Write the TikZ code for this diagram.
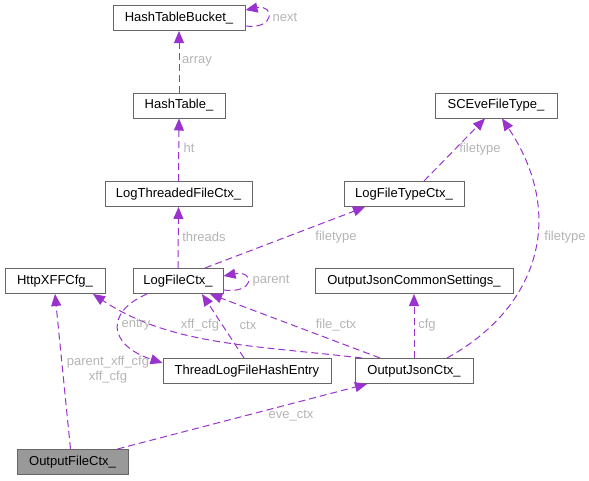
\documentclass[tikz,border=0pt]{standalone}
\usepackage{fontspec}
\setmainfont{Liberation Sans}
\usetikzlibrary{arrows.meta}
\definecolor{edgec}{HTML}{9A32CD}
\definecolor{labc}{HTML}{B4B4B4}
\definecolor{boxc}{HTML}{666666}
\definecolor{fillc}{HTML}{999999}
\begin{document}
\begin{tikzpicture}[x=1pt,y=-1pt,
  cls/.style={draw=boxc,line width=1pt,fill=white,minimum height=25pt,inner sep=0pt,font=\fontsize{13}{15}\selectfont,text=black},
  cur/.style={cls,fill=fillc},
  lab/.style={text=labc,font=\fontsize{13}{15}\selectfont,inner sep=0pt,align=center},
  use/.style={draw=edgec,line width=1pt,dash pattern=on 7pt off 4pt,-{Triangle[length=12pt,width=10pt,fill=edgec]}}]
\useasboundingbox (0,0) rectangle (589,480);
% nodes
\node[cls,minimum width=132pt] (htb) at (179,18) {HashTableBucket\_};
\node[cls,minimum width=92pt] (ht) at (179,105.5) {HashTable\_};
\node[cls,minimum width=147pt] (ltf) at (178.5,194) {LogThreadedFileCtx\_};
\node[cls,minimum width=122pt] (sce) at (496,105.5) {SCEveFileType\_};
\node[cls,minimum width=120pt] (lft) at (404,194) {LogFileTypeCtx\_};
\node[cls,minimum width=100pt] (xff) at (55,281) {HttpXFFCfg\_};
\node[cls,minimum width=90pt] (lfc) at (178,281) {LogFileCtx\_};
\node[cls,minimum width=198pt] (ojcs) at (414,281) {OutputJsonCommonSettings\_};
\node[cls,minimum width=168pt] (tlf) at (247,371) {ThreadLogFileHashEntry};
\node[cls,minimum width=118pt] (ojc) at (414,371) {OutputJsonCtx\_};
\node[cur,minimum width=111pt] (ofc) at (72.5,462) {OutputFileCtx\_};
% edges
\draw[use] (ht.north) -- (htb.south);
\draw[use] ([yshift=-8pt]htb.east) .. controls (275,30) and (275,4) .. ([yshift=8pt]htb.east);
\draw[use] (ltf.north) -- (ht.south);
\draw[use] (lfc.north) -- (ltf.south);
\draw[use] ([xshift=27pt]lfc.north) -- ([xshift=-39pt]lft.south);
\draw[use] ([xshift=20pt]lft.north) -- ([xshift=-11pt]sce.south);
\draw[use] ([yshift=-9pt]lfc.east) .. controls (255,294) and (255,270) .. ([yshift=5pt]lfc.east);
\draw[use] ([xshift=33pt]ojc.north) .. controls (540,307) and (566,214) .. ([xshift=6pt]sce.south);
\draw[use] (ojc.north) -- (ojcs.south);
\draw[use] ([xshift=-34pt]ojc.north) -- ([xshift=32pt]lfc.south);
\draw[use] ([xshift=-3pt]tlf.north) -- ([xshift=24pt]lfc.south);
\draw[use] ([xshift=-31pt]lfc.south) .. controls (105,312) and (108,345) .. ([yshift=8pt]tlf.west);
\draw[use] ([xshift=-52pt]ojc.north) .. controls (250,345) and (170,345) .. ([xshift=38pt]xff.south);
\draw[use] ([xshift=-2pt]ofc.north) -- (xff.south);
\draw[use] ([xshift=45pt]ofc.north) -- ([xshift=-47pt]ojc.south);
% labels
\node[lab] (l1) at (197,61) {array};
\node[lab] (l2) at (285,17) {next};
\node[lab] (l3) at (189,148) {ht};
\node[lab] (l4) at (204,237) {threads};
\node[lab] (l5) at (336,237) {filetype};
\node[lab] (l6) at (480,149) {filetype};
\node[lab] (l7) at (271,281) {parent};
\node[lab] (l8) at (565,237) {filetype};
\node[lab] (l9) at (427,325) {cfg};
\node[lab] (l10) at (336,325) {file\_ctx};
\node[lab] (l11) at (248,325) {ctx};
\node[lab] (l12) at (136,325) {entry};
\node[lab] (l13) at (200,325) {xff\_cfg};
\node[lab] (l14) at (108,370) {parent\_xff\_cfg\\xff\_cfg};
\node[lab] (l15) at (291,416) {eve\_ctx};
\end{tikzpicture}
\end{document}
